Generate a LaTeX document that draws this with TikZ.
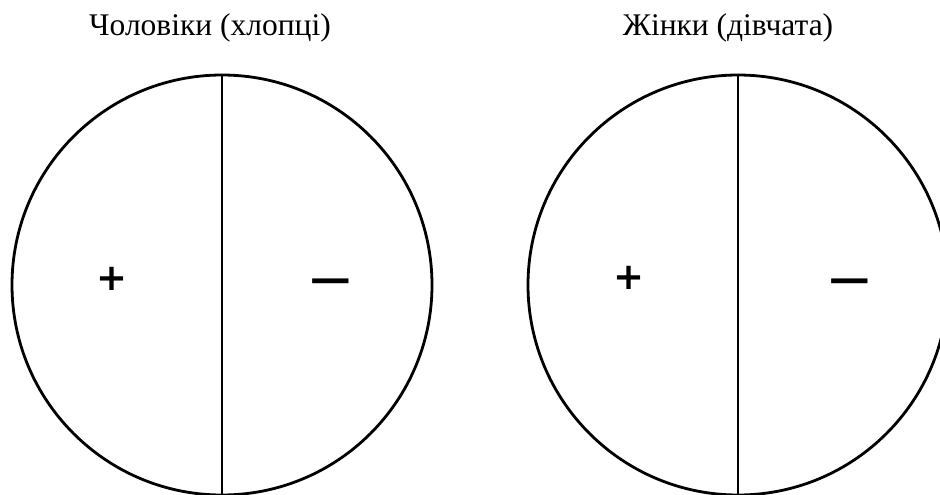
\documentclass[tikz,border=0pt]{standalone}
\usepackage{fontspec}
\setmainfont{Liberation Serif}
\newfontfamily\signfont{DejaVu Sans}
\begin{document}
\begin{tikzpicture}[x=1pt,y=-1pt]
\useasboundingbox (0,0) rectangle (940,495);
\tikzset{
  title/.style={anchor=base, font=\fontsize{31.5}{36}\selectfont},
  disc/.style={draw, circle, line width=2.8pt, minimum size=420pt, inner sep=0pt},
  plussign/.style={anchor=base, inner sep=0pt, font=\signfont\bfseries\fontsize{37}{40}\selectfont},
  minussign/.style={anchor=base, inner sep=0pt, font=\signfont\fontsize{58}{60}\selectfont}
}
\node[title] (titleM) at (210,36) {Чоловіки (хлопці)};
\node[title] (titleW) at (728,36) {Жінки (дівчата)};
\node[disc] (men) at (222,285) {};
\node[disc] (women) at (738,285) {};
\draw[line width=1.4pt] (men.north) -- (men.south);
\draw[line width=1.4pt] (women.north) -- (women.south);
\node[plussign] (plusM) at (112,290) {+};
\node[minussign] (minusM) at (331,299) {−};
\node[plussign] (plusW) at (629,289) {+};
\node[minussign] (minusW) at (850,299) {−};
\end{tikzpicture}
\end{document}
